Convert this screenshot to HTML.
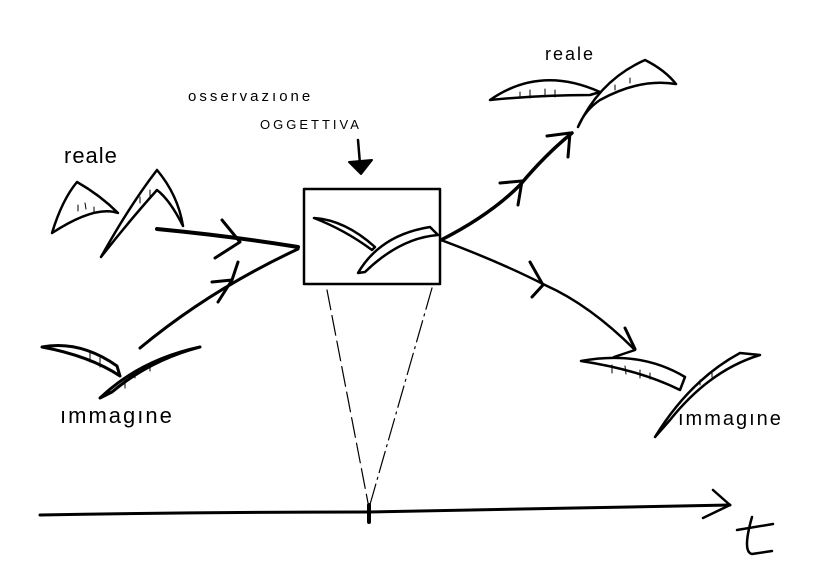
<!DOCTYPE html>
<html><head><meta charset="utf-8"><style>
html,body{margin:0;padding:0;background:#fff;width:837px;height:582px;overflow:hidden}
svg{display:block}
text{font-family:"Liberation Sans",sans-serif;fill:#000}
</style></head><body>
<svg width="837" height="582" viewBox="0 0 837 582" xmlns="http://www.w3.org/2000/svg" fill="none" stroke="#000" stroke-linecap="round" stroke-linejoin="round">
<!-- top-left bird (reale) -->
<text x="64" y="163" font-size="22" stroke="none" letter-spacing="1">reale</text>
<path d="M52,233 Q62,200 77,182 Q100,195 118,213 Q95,205 52,233 Z" stroke-width="2.5" fill="#fff"/>
<path d="M101,257 Q130,205 157,170 Q178,195 183,226 Q170,200 157,190 Q130,220 101,257 Z" stroke-width="2.5" fill="#fff"/>
<path d="M78,205 l0,6 M85,203 l1,6 M94,207 l0,6 M140,197 l0,6 M150,190 l0,6" stroke-width="1"/>
<!-- bottom-left bird (immagine) -->
<path d="M42,347 Q80,340 117,366 L120,376 Q90,356 42,347 Z" stroke-width="3" fill="#fff"/>
<path d="M100,398 Q140,360 200,347 Q150,360 112,392 Z" stroke-width="3" fill="#fff"/>
<path d="M90,352 l0,10 M100,358 l0,9 M125,380 l0,8 M135,372 l0,6 M150,365 l0,6" stroke-width="1"/>
<text x="60" y="423" font-size="22" stroke="none" letter-spacing="2">ımmagıne</text>
<!-- arrows into box -->
<path d="M157,229 Q230,236 298,247" stroke-width="4"/>
<path d="M222,220 L240,242 L215,258" stroke-width="3"/>
<path d="M140,348 Q210,290 298,249" stroke-width="3"/>
<path d="M212,282 L232,280 L238,262 M232,280 L218,302" stroke-width="3"/>
<!-- box -->
<rect x="304" y="189" width="136" height="95" stroke-width="2.5"/>
<path d="M314,218 Q345,220 375,247 L372,250 Q345,230 314,218 Z" stroke-width="2.5" fill="#fff"/>
<path d="M358,273 Q380,235 430,227 L438,235 Q400,238 365,272 Z" stroke-width="2.5" fill="#fff"/>
<!-- label -->
<text x="188" y="101" font-size="15" stroke="none" letter-spacing="3">osservazıone</text>
<text x="260" y="129" font-size="13" stroke="none" letter-spacing="3">OGGETTIVA</text>
<path d="M358,140 L360,164" stroke-width="2.5"/>
<path d="M349,162 L372,160 L361,174 Z" fill="#000" stroke-width="2"/>
<!-- arrows out -->
<path d="M441,240 Q490,215 520,185 Q545,155 572,133" stroke-width="3.5"/>
<path d="M500,183 L522,181 L518,205" stroke-width="3"/>
<path d="M547,136 L570,133 L568,157" stroke-width="3"/>
<path d="M441,240 Q500,262 545,285 Q590,305 635,350 L614,357" stroke-width="2.5"/>
<path d="M532,297 L543,285 L530,262" stroke-width="3"/>
<path d="M625,328 L635,349" stroke-width="3"/>
<!-- top-right bird -->
<text x="545" y="60" font-size="18" stroke="none" letter-spacing="2">reale</text>
<path d="M490,100 Q540,65 600,92 L590,95 Q540,95 490,100 Z" stroke-width="2.5" fill="#fff"/>
<path d="M578,127 Q600,80 645,60 Q665,70 676,84 Q640,78 600,100 Q585,110 578,127 Z" stroke-width="2.5" fill="#fff"/>
<path d="M520,92 l0,6 M530,90 l0,8 M545,89 l0,8 M555,90 l0,7 M615,85 l0,5 M630,78 l0,5" stroke-width="1"/>
<!-- bottom-right bird -->
<path d="M581,361 Q640,350 685,377 L680,390 Q640,370 581,361 Z" stroke-width="2.5" fill="#fff"/>
<path d="M655,437 Q690,380 740,353 L760,355 Q710,370 670,420 Z" stroke-width="2.5" fill="#fff"/>
<path d="M612,365 l0,8 M625,366 l1,8 M640,370 l0,8 M650,373 l0,6 M700,380 l0,5 M712,372 l0,5" stroke-width="1"/>
<text x="678" y="425" font-size="20" stroke="none" letter-spacing="2">ımmagıne</text>
<!-- dashed lines -->
<path d="M327,290 L369,508" stroke-width="1.2" stroke-dasharray="20,6"/>
<path d="M432,288 L369,508" stroke-width="1.2" stroke-dasharray="22,5,2,5"/>
<!-- timeline -->
<path d="M40,515 Q200,512 369,512 Q550,508 730,505" stroke-width="3"/>
<path d="M369,505 L369,522" stroke-width="4"/>
<path d="M713,490 L730,505 L703,518" stroke-width="2.5"/>
<path d="M737,530 L773,524 M752,517 Q742,552 752,554 L772,551" stroke-width="2.5"/>
</svg>
</body></html>
